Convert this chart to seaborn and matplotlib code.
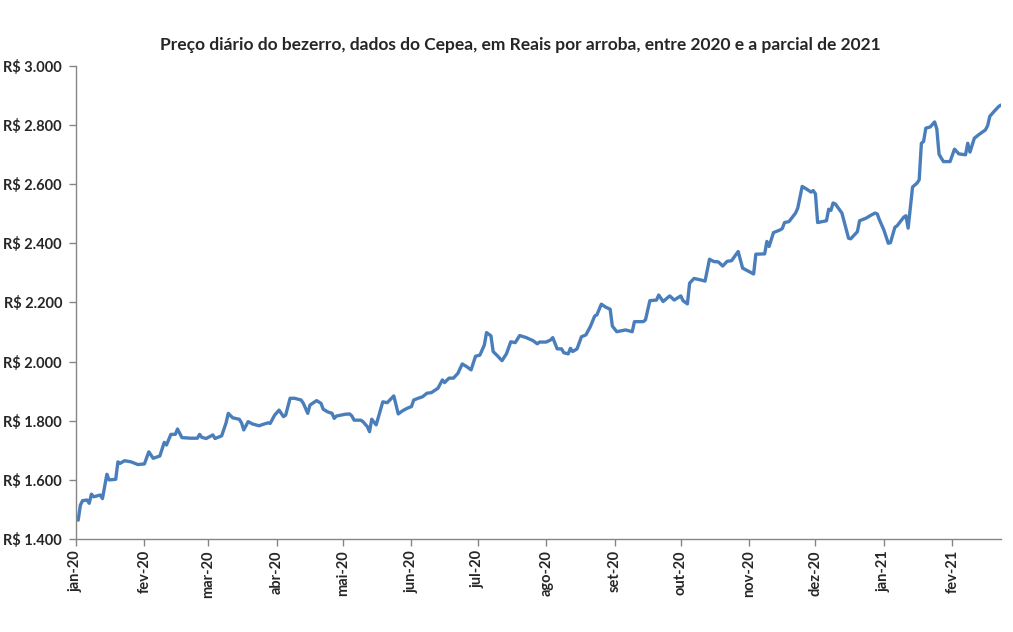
import pandas as pd
import seaborn as sns
import matplotlib.pyplot as plt
from matplotlib.ticker import FuncFormatter

# Daily calf price (Cepea), R$ per arroba
datas = ['2020-01-02', '2020-01-03', '2020-01-04', '2020-01-06', '2020-01-07', '2020-01-08', '2020-01-09',
         '2020-01-12', '2020-01-13', '2020-01-15', '2020-01-16', '2020-01-19', '2020-01-20', '2020-01-21',
         '2020-01-23', '2020-01-26', '2020-01-29', '2020-02-01', '2020-02-03', '2020-02-05', '2020-02-08',
         '2020-02-10', '2020-02-11', '2020-02-13', '2020-02-15', '2020-02-16', '2020-02-18', '2020-02-22',
         '2020-02-25', '2020-02-26', '2020-02-27', '2020-02-29', '2020-03-03', '2020-03-04', '2020-03-07',
         '2020-03-09', '2020-03-10', '2020-03-12', '2020-03-15', '2020-03-16', '2020-03-17', '2020-03-19',
         '2020-03-21', '2020-03-24', '2020-03-25', '2020-03-28', '2020-03-29', '2020-03-31', '2020-04-02',
         '2020-04-04', '2020-04-05', '2020-04-07', '2020-04-09', '2020-04-12', '2020-04-13', '2020-04-15',
         '2020-04-16', '2020-04-19', '2020-04-21', '2020-04-22', '2020-04-24', '2020-04-26', '2020-04-27',
         '2020-04-28', '2020-05-02', '2020-05-04', '2020-05-05', '2020-05-06', '2020-05-09', '2020-05-10',
         '2020-05-12', '2020-05-13', '2020-05-14', '2020-05-16', '2020-05-19', '2020-05-21', '2020-05-24',
         '2020-05-26', '2020-05-28', '2020-05-30', '2020-06-01', '2020-06-02', '2020-06-04', '2020-06-06',
         '2020-06-08', '2020-06-10', '2020-06-13', '2020-06-15', '2020-06-16', '2020-06-18', '2020-06-20',
         '2020-06-22', '2020-06-24', '2020-06-26', '2020-06-28', '2020-06-30', '2020-07-02', '2020-07-04',
         '2020-07-05', '2020-07-07', '2020-07-08', '2020-07-10', '2020-07-12', '2020-07-14', '2020-07-16',
         '2020-07-18', '2020-07-20', '2020-07-23', '2020-07-26', '2020-07-28', '2020-07-29', '2020-08-01',
         '2020-08-03', '2020-08-04', '2020-08-06', '2020-08-08', '2020-08-09', '2020-08-11', '2020-08-12',
         '2020-08-13', '2020-08-15', '2020-08-17', '2020-08-19', '2020-08-21', '2020-08-23', '2020-08-24',
         '2020-08-26', '2020-08-28', '2020-08-30', '2020-08-31', '2020-09-02', '2020-09-04', '2020-09-06',
         '2020-09-09', '2020-09-10', '2020-09-14', '2020-09-15', '2020-09-17', '2020-09-20', '2020-09-21',
         '2020-09-23', '2020-09-26', '2020-09-28', '2020-10-01', '2020-10-02', '2020-10-04', '2020-10-05',
         '2020-10-07', '2020-10-10', '2020-10-12', '2020-10-14', '2020-10-16', '2020-10-18', '2020-10-20',
         '2020-10-22', '2020-10-24', '2020-10-27', '2020-10-29', '2020-10-30', '2020-11-03', '2020-11-04',
         '2020-11-08', '2020-11-09', '2020-11-10', '2020-11-12', '2020-11-15', '2020-11-16', '2020-11-17',
         '2020-11-19', '2020-11-22', '2020-11-23', '2020-11-25', '2020-11-27', '2020-11-29', '2020-11-30',
         '2020-12-01', '2020-12-02', '2020-12-06', '2020-12-07', '2020-12-08', '2020-12-09', '2020-12-10',
         '2020-12-13', '2020-12-16', '2020-12-17', '2020-12-20', '2020-12-21', '2020-12-24', '2020-12-26',
         '2020-12-28', '2020-12-29', '2020-12-30', '2021-01-01', '2021-01-03', '2021-01-04', '2021-01-06',
         '2021-01-07', '2021-01-10', '2021-01-11', '2021-01-12', '2021-01-13', '2021-01-14', '2021-01-16',
         '2021-01-17', '2021-01-18', '2021-01-19', '2021-01-20', '2021-01-22', '2021-01-24', '2021-01-25',
         '2021-01-26', '2021-01-27', '2021-01-28', '2021-01-31', '2021-02-02', '2021-02-04', '2021-02-07',
         '2021-02-08', '2021-02-09', '2021-02-11', '2021-02-13', '2021-02-16', '2021-02-17', '2021-02-18',
         '2021-02-20', '2021-02-22', '2021-02-23']

precos = [1464, 1515, 1530, 1532, 1521, 1552, 1543,
          1549, 1537, 1619, 1600, 1602, 1661, 1656,
          1665, 1661, 1652, 1654, 1695, 1673, 1681,
          1727, 1718, 1754, 1754, 1772, 1743, 1741,
          1741, 1754, 1744, 1740, 1752, 1740, 1749,
          1793, 1825, 1810, 1805, 1793, 1769, 1797,
          1789, 1783, 1786, 1793, 1791, 1819, 1836,
          1814, 1819, 1876, 1876, 1870, 1859, 1825,
          1853, 1868, 1859, 1839, 1830, 1825, 1808,
          1816, 1822, 1823, 1816, 1802, 1802, 1797,
          1780, 1763, 1805, 1786, 1864, 1861, 1884,
          1823, 1834, 1842, 1848, 1870, 1876, 1881,
          1893, 1895, 1910, 1938, 1929, 1944, 1944,
          1960, 1992, 1983, 1972, 2018, 2022, 2056,
          2098, 2087, 2034, 2019, 2003, 2026, 2067,
          2064, 2088, 2081, 2071, 2060, 2066, 2066,
          2073, 2081, 2043, 2043, 2030, 2026, 2045,
          2034, 2043, 2084, 2090, 2118, 2154, 2158,
          2194, 2184, 2177, 2120, 2101, 2104, 2107,
          2101, 2135, 2135, 2141, 2206, 2208, 2225,
          2203, 2222, 2208, 2222, 2206, 2195, 2265,
          2281, 2276, 2272, 2346, 2338, 2337, 2323,
          2339, 2341, 2372, 2316, 2312, 2296, 2363,
          2364, 2406, 2389, 2436, 2445, 2450, 2470,
          2473, 2502, 2519, 2592, 2583, 2573, 2578,
          2567, 2470, 2476, 2515, 2511, 2536, 2533,
          2502, 2417, 2415, 2439, 2476, 2485, 2494,
          2502, 2499, 2479, 2445, 2400, 2402, 2454,
          2459, 2488, 2493, 2451, 2519, 2590, 2603,
          2614, 2738, 2744, 2789, 2793, 2810, 2786,
          2701, 2688, 2676, 2676, 2718, 2702, 2699,
          2738, 2708, 2755, 2767, 2783, 2797, 2829,
          2846, 2862, 2867]

meses = ['jan-20', 'fev-20', 'mar-20', 'abr-20', 'mai-20', 'jun-20', 'jul-20',
         'ago-20', 'set-20', 'out-20', 'nov-20', 'dez-20', 'jan-21', 'fev-21']

df = pd.DataFrame({'Data': pd.to_datetime(datas), 'Preco': precos})

sns.set_style('white')
plt.rcParams['font.family'] = ['Lato', 'DejaVu Sans']

fig = plt.figure(figsize=(10.13, 6.32), dpi=100)
ax = fig.add_axes([0.075, 0.147, 0.913, 0.749])

sns.lineplot(data=df, x='Data', y='Preco', color='#4A7EBB', linewidth=2.4, ax=ax)

# month ticks, Excel style labels
ticks = pd.date_range('2020-01-01', periods=len(meses), freq='MS')
ax.set_xticks(ticks)
ax.set_xticklabels(meses, rotation=90, fontweight='bold', fontsize=10.5)
ax.set_xlim(pd.Timestamp('2020-01-01'), df['Data'].max())

ax.set_ylim(1400, 3000)
ax.set_yticks(range(1400, 3001, 200))
ax.yaxis.set_major_formatter(FuncFormatter(lambda v, p: 'R$ ' + f'{int(v):,}'.replace(',', '.')))
for lbl in ax.get_yticklabels():
    lbl.set_fontweight('bold')
    lbl.set_fontsize(10.5)

ax.tick_params(axis='x', direction='out', length=5, color='#868686', width=1, pad=3)
ax.tick_params(axis='y', direction='out', length=5, color='#868686', width=1, pad=5)
ax.tick_params(left=True, bottom=True)

for side in ['top', 'right']:
    ax.spines[side].set_visible(False)
for side in ['left', 'bottom']:
    ax.spines[side].set_color('#868686')
    ax.spines[side].set_linewidth(1)

ax.set_xlabel('')
ax.set_ylabel('')
ax.grid(False)

fig.suptitle('Preço diário do bezerro, dados do Cepea, em Reais por arroba, entre 2020 e a parcial de 2021',
             x=0.514, y=0.942, fontsize=12.5, fontweight='bold')

fig.savefig('out.png', dpi=100)
